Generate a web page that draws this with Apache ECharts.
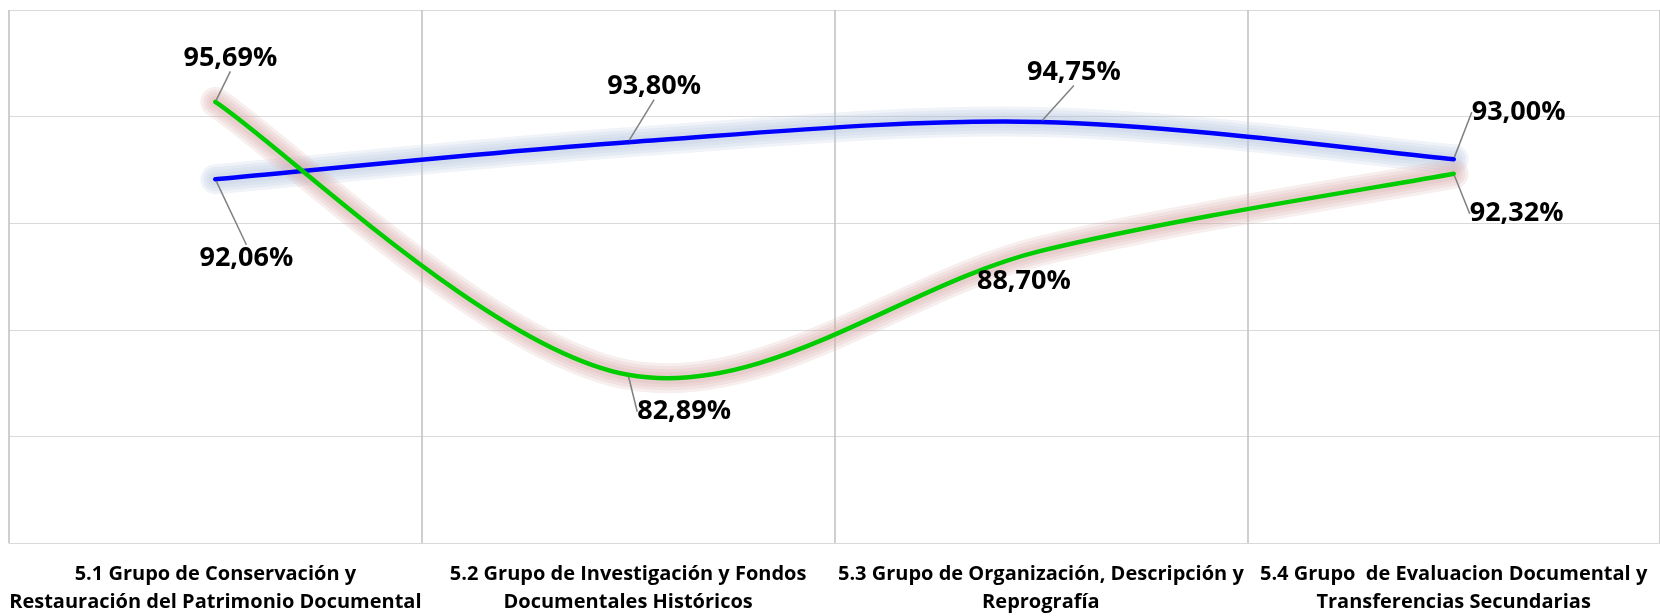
<!DOCTYPE html>
<html>
<head>
<meta charset="utf-8">
<script src="https://cdn.jsdelivr.net/npm/echarts@6/dist/echarts.min.js"></script>
<style>
  html, body { margin: 0; padding: 0; background: #fff; }
  #grupos { width: 1660px; height: 616px; }
</style>
</head>
<body>
<div id="grupos"></div>
<script>
  // categorias del eje x
  var categorias = [
    '5.1 Grupo de Conservación y\nRestauración del Patrimonio Documental',
    '5.2 Grupo de Investigación y Fondos\nDocumentales Históricos',
    '5.3 Grupo de Organización, Descripción y\nReprografía',
    '5.4 Grupo  de Evaluacion Documental y\nTransferencias Secundarias'
  ];
  // valores (%)
  var serieAzul = [92.06, 93.80, 94.75, 93.00];
  var serieVerde = [95.69, 82.89, 88.70, 92.32];
  // escala del eje y
  var ejeMin = 75, ejeMax = 100, ejeIntervalo = 5;

  // desplazamiento de las etiquetas respecto al punto (centro de la etiqueta)
  var despAzul = [[31, 79], [26, -56], [33, -50], [65, -47]];
  var despVerde = [[15, -44], [56, 37], [-17, 30], [63, 40]];
  // linea guia visible o no
  var guiaAzul = [true, true, true, true];
  var guiaVerde = [true, true, false, true];

  var AZUL = '#0000ff', VERDE = '#00cc00';

  function fmt(p) {
    return p.value.toFixed(2).replace('.', ',') + '%';
  }

  // curva suavizada tipo Excel (bezier, puntos de control a 1/6)
  function curva(api, valores) {
    var p = valores.map(function (v, i) { return api.coord([i, v]); });
    var n = p.length;
    var d = 'M' + p[0][0] + ' ' + p[0][1];
    for (var i = 0; i < n - 1; i++) {
      var a = p[Math.max(i - 1, 0)], b = p[i], c = p[i + 1], e = p[Math.min(i + 2, n - 1)];
      var c1x = b[0] + (c[0] - a[0]) / 6, c1y = b[1] + (c[1] - a[1]) / 6;
      var c2x = c[0] - (e[0] - b[0]) / 6, c2y = c[1] - (e[1] - b[1]) / 6;
      d += ' C' + c1x + ' ' + c1y + ' ' + c2x + ' ' + c2y + ' ' + c[0] + ' ' + c[1];
    }
    return d;
  }

  function trazo(d, color, ancho) {
    return {
      type: 'path',
      shape: { pathData: d },
      style: {
        fill: 'none',
        stroke: color,
        lineWidth: ancho,
        lineCap: 'round',
        lineJoin: 'round'
      }
    };
  }

  // resplandor suave: varias capas anchas y transparentes
  function brillo(d, rgb) {
    return [30, 24, 18, 12].map(function (w) {
      return trazo(d, 'rgba(' + rgb + ',0.2)', w);
    });
  }

  function etiquetas(nombre, datos, color, desp, guia) {
    return {
      name: nombre,
      type: 'line',
      z: 5,
      data: datos.map(function (v, i) {
        return { value: v, labelLine: { show: guia[i] } };
      }),
      symbol: 'circle',
      symbolSize: 4,
      itemStyle: { color: color },
      lineStyle: { opacity: 0 },
      label: {
        show: true,
        position: 'inside',
        formatter: fmt,
        color: '#000',
        fontFamily: 'Open Sans',
        fontWeight: 'bold',
        fontSize: 27
      },
      labelLine: {
        show: true,
        lineStyle: { color: '#808080', width: 1.5 }
      },
      labelLayout: function (params) {
        var dd = desp[params.dataIndex];
        return { dx: dd[0], dy: dd[1] };
      }
    };
  }

  var chart = echarts.init(document.getElementById('grupos'));
  chart.setOption({
    animation: false,
    grid: { left: 9, top: 10, width: 1663, height: 533 },
    xAxis: {
      type: 'category',
      data: categorias,
      boundaryGap: true,
      axisLine: { lineStyle: { color: '#d9d9d9', width: 1 } },
      axisTick: { show: false },
      splitLine: { show: true, interval: 0, lineStyle: { color: '#bfbfbf', width: 1.5 } },
      axisLabel: {
        interval: 0,
        margin: 17,
        color: '#000',
        fontFamily: 'Open Sans',
        fontWeight: 'bold',
        fontSize: 20,
        lineHeight: 28
      }
    },
    yAxis: {
      type: 'value',
      min: ejeMin,
      max: ejeMax,
      interval: ejeIntervalo,
      axisLabel: { show: false },
      axisLine: { show: false },
      axisTick: { show: false },
      splitLine: { lineStyle: { color: '#d9d9d9', width: 1 } }
    },
    series: [
      {
        type: 'custom',
        z: 3,
        silent: true,
        data: [0],
        renderItem: function (params, api) {
          var dA = curva(api, serieAzul), dV = curva(api, serieVerde);
          return {
            type: 'group',
            children: []
              .concat(brillo(dA, '180,196,220'))
              .concat(brillo(dV, '215,168,168'))
              .concat([trazo(dA, AZUL, 4.5), trazo(dV, VERDE, 4.5)])
          };
        }
      },
      etiquetas('Serie 1', serieAzul, AZUL, despAzul, guiaAzul),
      etiquetas('Serie 2', serieVerde, VERDE, despVerde, guiaVerde)
    ]
  });
</script>
</body>
</html>
